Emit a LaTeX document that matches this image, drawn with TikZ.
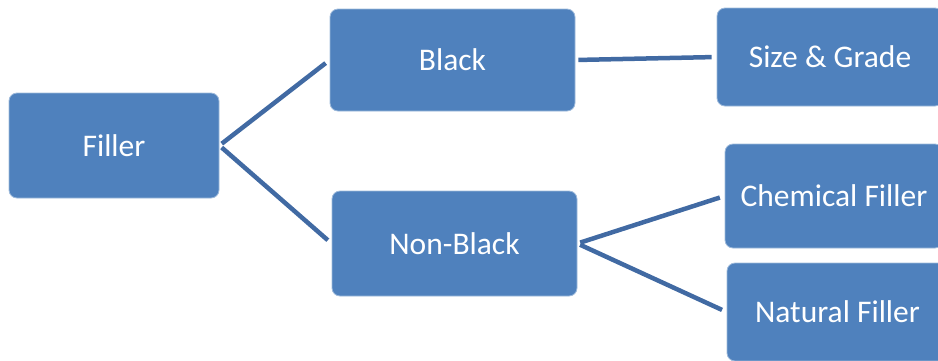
\documentclass[tikz,border=0pt]{standalone}
\usepackage{fontspec}
\setmainfont{Carlito}
\definecolor{boxblue}{RGB}{79,129,189}
\definecolor{lineblue}{RGB}{65,106,163}

\begin{document}
\begin{tikzpicture}[x=1pt,y=-1pt,
	box/.style={rectangle,rounded corners=8pt,fill=boxblue,draw=boxblue!55!white,
		line width=0.8pt,text=white,inner sep=0pt,
		font=\fontsize{31.5}{38}\selectfont},
	link/.style={lineblue,line width=4.5pt,shorten <=3pt,shorten >=5pt}]
	\useasboundingbox (0,0) rectangle (938,360);
	\clip (0,0) rectangle (938,360);
	% root
	\node[box,minimum width=210pt,minimum height=105pt] (filler) at (114,145.5) {Filler};
	% second level
	\node[box,minimum width=245pt,minimum height=102pt] (black) at (452.5,60) {Black};
	\node[box,minimum width=245pt,minimum height=105pt] (nonblack) at (454.5,243.5) {Non-Black};
	% leaves
	\node[box,minimum width=226pt,minimum height=98pt] (size) at (830,57) {Size \& Grade};
	\node[box,minimum width=218pt,minimum height=104pt] (chem) at (834,196) {Chemical Filler};
	\node[box,minimum width=221pt,minimum height=98pt] (natural) at (837.5,312) {Natural Filler};
	% \draw[link] (filler.east) -- (size.west);
	\draw[link] (filler.east) -- (black.west);
	\draw[link] (filler.east) -- (nonblack.west);
	\draw[link] (black.east) -- (size.west);
	\draw[link] (nonblack.east) -- (chem.west);
	\draw[link] (nonblack.east) -- (natural.west);
\end{tikzpicture}
\end{document}
